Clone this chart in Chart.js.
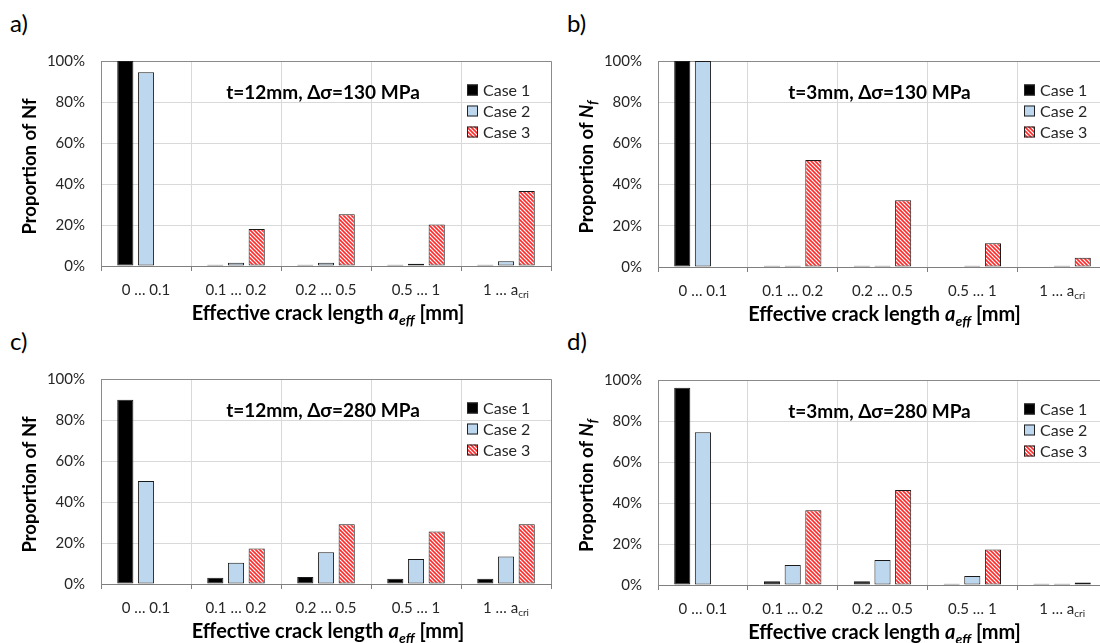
<!DOCTYPE html>
<html>
<head>
<meta charset="utf-8">
<script src="https://cdn.jsdelivr.net/npm/chart.js@4.4.1/dist/chart.umd.min.js"></script>
<style>
  body { margin: 0; width: 1100px; height: 643px; overflow: hidden; background: #fff; position: relative; }
  canvas { position: absolute; }
  .lbl { position: absolute; font: 24px Lato, sans-serif; color: #000; line-height: 28px; }
</style>
</head>
<body>
<div class="lbl" style="left:10px;top:9px">a)</div>
<div class="lbl" style="left:567px;top:9px">b)</div>
<div class="lbl" style="left:10px;top:327px">c)</div>
<div class="lbl" style="left:567px;top:327px">d)</div>
<canvas id="ca"></canvas>
<canvas id="cb"></canvas>
<canvas id="cc"></canvas>
<canvas id="cd"></canvas>
<script>
// categories (the "_" part is drawn as subscript)
const categories = ['0 … 0.1', '0.1 … 0.2', '0.2 … 0.5', '0.5 … 1', '1 … a_cri'];
const caseNames = ['Case 1', 'Case 2', 'Case 3'];
const yTicks = [0, 20, 40, 60, 80, 100];

// a) t=12mm, 130 MPa
const a_case1 = [100, 0.6, 0.6, 0.6, 0.6];
const a_case2 = [94.5, 1.6, 1.6, 1.1, 2.3];
const a_case3 = [0, 18, 25.2, 20.3, 36.6];
// b) t=3mm, 130 MPa
const b_case1 = [100, 0.6, 0.6, 0, 0];
const b_case2 = [100, 0.6, 0.6, 0.6, 0.6];
const b_case3 = [0, 52, 32.4, 11.5, 4.5];
// c) t=12mm, 280 MPa
const c_case1 = [89.9, 3.1, 3.4, 2.6, 2.6];
const c_case2 = [50.3, 10.4, 15.5, 12.2, 13.4];
const c_case3 = [0, 17.3, 29.2, 25.6, 29.2];
// d) t=3mm, 280 MPa
const d_case1 = [96.2, 1.8, 1.8, 0.6, 0.6];
const d_case2 = [74.5, 9.8, 12.2, 4.4, 0.6];
const d_case3 = [0, 36.5, 46.3, 17.3, 1.2];

const titleA = 't=12mm, Δσ=130 MPa';
const titleB = 't=3mm, Δσ=130 MPa';
const titleC = 't=12mm, Δσ=280 MPa';
const titleD = 't=3mm, Δσ=280 MPa';

const yTitlePlain = [{ t: 'Proportion of Nf' }];
const yTitleItalic = [{ t: 'Proportion of ' }, { t: 'N', i: 1 }, { t: 'f', i: 1, sub: 1 }];
const xTitle = [{ t: 'Effective crack length ' }, { t: 'a', i: 1 }, { t: 'eff', i: 1, sub: 1 }, { t: ' [mm]' }];

const FONT = 'Lato';
Chart.defaults.font.family = FONT;

// red diagonal hatch for case 3
function makeHatch() {
  const c = document.createElement('canvas');
  c.width = 4; c.height = 4;
  const g = c.getContext('2d');
  g.fillStyle = '#ffffff';
  g.fillRect(0, 0, 4, 4);
  g.strokeStyle = '#ff2b2b';
  g.lineWidth = 1.6;
  g.beginPath();
  g.moveTo(-1, -1); g.lineTo(5, 5);
  g.moveTo(-1, 3); g.lineTo(1, 5);
  g.moveTo(3, -1); g.lineTo(5, 1);
  g.stroke();
  return g.createPattern(c, 'repeat');
}
const hatch = makeHatch();
const fills = ['#000000', '#bdd7ee', hatch];

// text with italic / subscript pieces
function drawRich(ctx, parts, x, y, size, bold, align) {
  let w = 0;
  const segs = parts.map(p => {
    const fs = p.sub ? Math.round(size * 0.68) : size;
    const font = `${p.i ? 'italic ' : ''}${bold ? 'bold ' : ''}${fs}px ${FONT}`;
    ctx.font = font;
    const mw = ctx.measureText(p.t).width;
    w += mw;
    return { t: p.t, font, mw, sub: p.sub };
  });
  let cx = align === 'center' ? x - w / 2 : x;
  ctx.textAlign = 'left';
  ctx.textBaseline = 'middle';
  segs.forEach(s => {
    ctx.font = s.font;
    ctx.fillText(s.t, cx, y + (s.sub ? size * 0.3 : 0));
    cx += s.mw;
  });
}

function labelParts(str) {
  const k = str.indexOf('_');
  if (k < 0) return [{ t: str }];
  return [{ t: str.slice(0, k) }, { t: str.slice(k + 1), sub: 1 }];
}

const deco = {
  id: 'deco',
  beforeDatasetsDraw(chart) {
    const { ctx, chartArea: a } = chart;
    ctx.save();
    ctx.strokeStyle = '#8a8a8a';
    ctx.lineWidth = 1;
    ctx.beginPath();
    ctx.moveTo(Math.round(a.left), Math.round(a.top) + 0.5);
    ctx.lineTo(Math.round(a.right) + 0.5, Math.round(a.top) + 0.5);
    ctx.lineTo(Math.round(a.right) + 0.5, Math.round(a.bottom));
    ctx.stroke();
    ctx.restore();
  },
  afterDraw(chart, args, opts) {
    const { ctx, chartArea: a } = chart;
    const xs = chart.scales.x;
    ctx.save();
    ctx.fillStyle = '#000';

    // title inside plot
    ctx.font = `bold 19px ${FONT}`;
    ctx.textAlign = 'center';
    ctx.textBaseline = 'middle';
    ctx.fillText(opts.title, (a.left + a.right) / 2 - 3, a.top + 32);

    // legend
    chart.data.datasets.forEach((ds, i) => {
      const y = a.top + 29 + i * 21;
      ctx.fillStyle = ds.backgroundColor;
      ctx.fillRect(a.left + 366, y - 5.5, 11, 11);
      ctx.strokeStyle = '#222';
      ctx.lineWidth = 1;
      ctx.strokeRect(a.left + 366.5, y - 5, 10, 10);
      ctx.fillStyle = '#262626';
      ctx.font = `16px ${FONT}`;
      ctx.textAlign = 'left';
      ctx.textBaseline = 'middle';
      ctx.fillText(ds.label, a.left + 382, y + 1);
    });

    // category labels with subscript
    ctx.fillStyle = '#262626';
    categories.forEach((c, i) => {
      if (c.indexOf('_') < 0) return;
      drawRich(ctx, labelParts(c), xs.getPixelForValue(i), a.bottom + 24, 15, false, 'center');
    });

    // axis titles
    ctx.fillStyle = '#000';
    drawRich(ctx, xTitle, (a.left + a.right) / 2 + 2, a.bottom + 48, 20, true, 'center');
    ctx.translate(a.left - 71, (a.top + a.bottom) / 2 + 3);
    ctx.rotate(-Math.PI / 2);
    drawRich(ctx, opts.yTitle, 0, 0, 18.5, true, 'center');
    ctx.restore();
  }
};

function makeChart(id, box, plot, c1, c2, c3, title, yTitle) {
  const cv = document.getElementById(id);
  cv.width = box[2];
  cv.height = box[3];
  cv.style.left = box[0] + 'px';
  cv.style.top = box[1] + 'px';
  const vals = [c1, c2, c3];
  return new Chart(cv, {
    type: 'bar',
    data: {
      labels: categories,
      datasets: vals.map((v, i) => ({
        label: caseNames[i],
        data: v,
        backgroundColor: fills[i],
        borderColor: '#1a1a1a',
        borderWidth: 1,
        borderSkipped: false,
        barPercentage: 0.78,
        categoryPercentage: 0.69
      }))
    },
    options: {
      responsive: false,
      animation: false,
      layout: {
        padding: { left: 0, bottom: 0, top: plot[1] - box[1], right: box[0] + box[2] - plot[2] }
      },
      plugins: {
        legend: { display: false },
        tooltip: { enabled: false },
        deco: { title, yTitle }
      },
      scales: {
        x: {
          afterFit: s => { s.height = box[1] + box[3] - plot[3]; },
          grid: { color: '#d9d9d9', tickColor: '#7f7f7f', tickLength: 5, offset: true },
          border: { color: '#7f7f7f' },
          ticks: {
            color: '#262626', font: { size: 15 }, padding: 10, maxRotation: 0, autoSkip: false,
            callback: (v, i) => (categories[i].indexOf('_') < 0 ? categories[i] : '')
          }
        },
        y: {
          min: 0, max: 100,
          afterFit: s => { s.width = plot[0] - box[0]; },
          afterBuildTicks: s => { s.ticks = yTicks.map(v => ({ value: v })); },
          grid: { color: '#d9d9d9', drawTicks: false },
          border: { color: '#8a8a8a' },
          ticks: { color: '#262626', font: { size: 15 }, padding: 16, callback: v => v + '%' }
        }
      }
    },
    plugins: [deco]
  });
}

makeChart('ca', [0, 0, 560, 335], [101, 61, 551, 266], a_case1, a_case2, a_case3, titleA, yTitlePlain);
makeChart('cb', [550, 0, 565, 335], [658, 61, 1107, 267], b_case1, b_case2, b_case3, titleB, yTitleItalic);
makeChart('cc', [0, 318, 560, 325], [101, 379, 551, 584], c_case1, c_case2, c_case3, titleC, yTitlePlain);
makeChart('cd', [550, 318, 565, 325], [658, 380, 1107, 585], d_case1, d_case2, d_case3, titleD, yTitleItalic);
</script>
</body>
</html>
